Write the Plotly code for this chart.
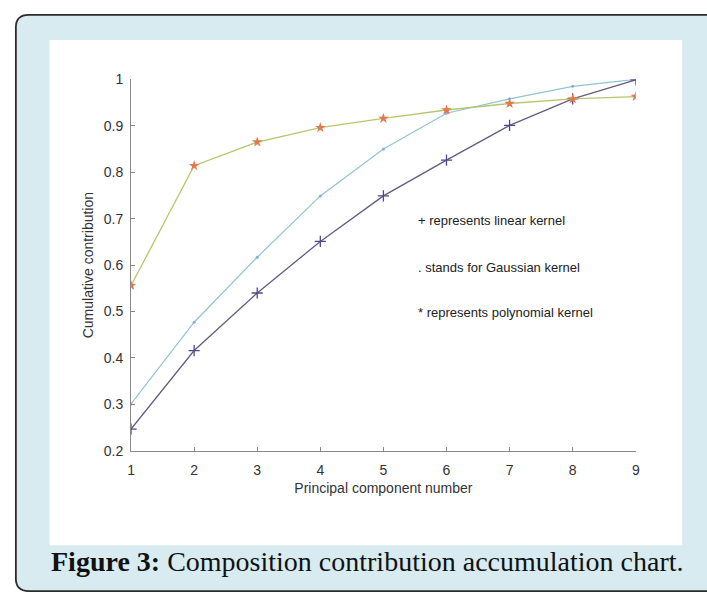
import plotly.graph_objects as go

W, H = 707, 601

components = [1, 2, 3, 4, 5, 6, 7, 8, 9]
linear_kernel = [0.247, 0.416, 0.540, 0.651, 0.749, 0.826, 0.901, 0.958, 0.999]
gaussian_kernel = [0.301, 0.477, 0.617, 0.749, 0.850, 0.927, 0.958, 0.985, 1.000]
polynomial_kernel = [0.556, 0.814, 0.865, 0.896, 0.916, 0.934, 0.948, 0.958, 0.963]

y_ticks = [0.2, 0.3, 0.4, 0.5, 0.6, 0.7, 0.8, 0.9, 1]
y_tick_text = ["0.2", "0.3", "0.4", "0.5", "0.6", "0.7", "0.8", "0.9", "1"]

notes = ["+ represents linear kernel", ". stands for Gaussian kernel", "* represents polynomial kernel"]
note_x = 5.52
note_y = [0.697, 0.594, 0.498]

def px(x):
    return x / W

def py(y):
    return 1 - y / H

fig = go.Figure()

fig.add_trace(go.Scatter(
    x=components, y=gaussian_kernel, mode="lines+markers",
    line=dict(color="#92c3d3", width=1.2),
    marker=dict(symbol="circle", size=3, color="#7fb3c6"),
    showlegend=False))
fig.add_trace(go.Scatter(
    x=components, y=linear_kernel, mode="lines+markers",
    line=dict(color="#665a80", width=1.3),
    marker=dict(symbol="cross-thin", size=8, line=dict(color="#4a4a8e", width=1.3)),
    showlegend=False))
fig.add_trace(go.Scatter(
    x=components, y=polynomial_kernel, mode="lines+markers",
    line=dict(color="#b7c56e", width=1.3),
    marker=dict(symbol="star", size=8, color="#e4784c"),
    showlegend=False))

# background shapes
x0, y0, x1, y1, r = 12, 7, 740, 599, 13
path = (f"M {px(x0+r)},{py(y0)} L {px(x1)},{py(y0)} L {px(x1)},{py(y1)} "
        f"L {px(x0+r)},{py(y1)} Q {px(x0)},{py(y1)} {px(x0)},{py(y1-r)} "
        f"L {px(x0)},{py(y0+r)} Q {px(x0)},{py(y0)} {px(x0+r)},{py(y0)} Z")
shapes = [
    dict(type="path", xref="paper", yref="paper", path=path,
         fillcolor="#d7ebf0", line=dict(color="#2b2b2b", width=1.8), layer="below"),
    dict(type="rect", xref="paper", yref="paper",
         x0=px(46), x1=px(686), y0=py(552), y1=py(33),
         fillcolor="#ffffff", line=dict(width=0), layer="below"),
]

annotations = []
for t, yv in zip(notes, note_y):
    annotations.append(dict(x=note_x, y=yv, xref="x", yref="y", text=t, showarrow=False,
                            xanchor="left", yanchor="middle",
                            font=dict(family="Liberation Sans", size=13, color="#222")))
annotations.append(dict(x=px(46), y=py(569), xref="paper", yref="paper",
                        text="<b>Figure 3:</b> Composition contribution accumulation chart.",
                        showarrow=False, xanchor="left", yanchor="middle",
                        font=dict(family="Liberation Serif", size=28, color="#111")))

fig.update_layout(
    width=W, height=H, autosize=False,
    margin=dict(l=0, r=0, t=0, b=0),
    paper_bgcolor="#ffffff", plot_bgcolor="rgba(0,0,0,0)",
    shapes=shapes, annotations=annotations,
    xaxis=dict(domain=[px(128.5), px(639)], range=[1, 9], tickvals=components,
               ticks="inside", ticklen=4, tickcolor="#888", showline=True, linecolor="#888",
               linewidth=1, showgrid=False, zeroline=False, ticklabelstandoff=6,
               tickfont=dict(family="Liberation Sans", size=14, color="#333"),
               title=dict(text="Principal component number", standoff=6,
                          font=dict(family="Liberation Sans", size=14, color="#333"))),
    yaxis=dict(domain=[py(455), py(73.3)], range=[0.2, 1], tickvals=y_ticks, ticktext=y_tick_text,
               ticks="inside", ticklen=4, tickcolor="#888", showline=True, linecolor="#888",
               linewidth=1, showgrid=False, zeroline=False, ticklabelstandoff=4,
               tickfont=dict(family="Liberation Sans", size=14, color="#333"),
               title=dict(text="Cumulative contribution", standoff=6,
                          font=dict(family="Liberation Sans", size=14, color="#333"))),
)

fig.write_html("out.html", config={"responsive": False, "displayModeBar": False},
               post_script="document.body.style.margin='0';document.body.style.overflow='hidden';")
